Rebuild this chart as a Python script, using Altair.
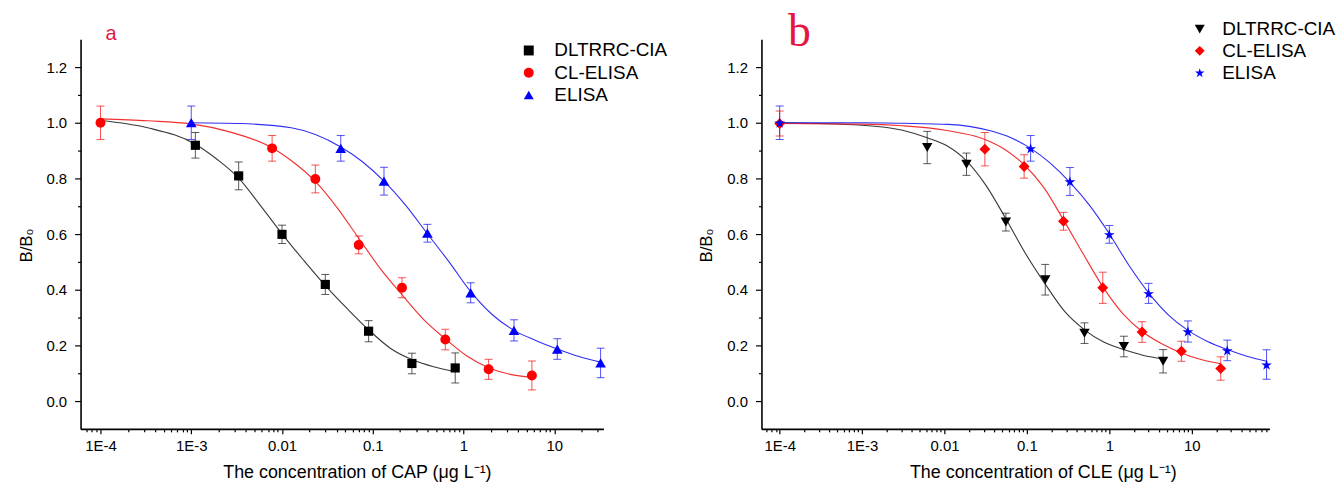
import altair as alt
import pandas as pd

SERIES = ["DLTRRC-CIA", "CL-ELISA", "ELISA"]
MARK_COLORS = ["#000000", "#ff0000", "#0000ff"]
LINE_COLORS = ["#222222", "#f01818", "#1818f0"]

# ---------------- Panel a : CAP ----------------
a_cia_x = [0.00111, 0.00333, 0.01, 0.03, 0.09, 0.27, 0.81]
a_cia_y = [0.919, 0.809, 0.599, 0.419, 0.251, 0.135, 0.119]
a_cia_e = [0.046, 0.050, 0.033, 0.036, 0.038, 0.037, 0.054]

a_cl_x = [0.0001, 0.00778, 0.0233, 0.07, 0.21, 0.63, 1.89, 5.67]
a_cl_y = [1.000, 0.908, 0.798, 0.561, 0.407, 0.221, 0.114, 0.092]
a_cl_e = [0.060, 0.046, 0.050, 0.032, 0.036, 0.037, 0.036, 0.052]

a_el_x = [0.001, 0.0444, 0.133, 0.4, 1.2, 3.6, 10.8, 32.4]
a_el_y = [1.000, 0.908, 0.790, 0.603, 0.389, 0.254, 0.187, 0.137]
a_el_e = [0.060, 0.046, 0.050, 0.032, 0.036, 0.038, 0.037, 0.053]

# fitted curves
a_cia_fx = [0.0001, 0.00033, 0.00111, 0.00192, 0.00333, 0.00577, 0.01, 0.0173,
            0.03, 0.052, 0.09, 0.156, 0.27, 0.468, 0.81]
a_cia_fy = [1.008, 0.982, 0.923, 0.869, 0.801, 0.703, 0.601, 0.506,
            0.415, 0.333, 0.256, 0.190, 0.149, 0.123, 0.106]

a_cl_fx = [0.0001, 0.00033, 0.001, 0.00259, 0.00778, 0.0135, 0.0233, 0.0404,
           0.07, 0.121, 0.21, 0.364, 0.63, 1.09, 1.89, 3.27, 5.67]
a_cl_fy = [1.014, 1.007, 0.996, 0.968, 0.910, 0.857, 0.789, 0.695,
           0.585, 0.476, 0.382, 0.293, 0.224, 0.162, 0.120, 0.096, 0.086]

a_el_fx = [0.001, 0.0035, 0.0126, 0.0444, 0.077, 0.133, 0.231, 0.4,
           0.693, 1.2, 2.08, 3.6, 6.24, 10.8, 18.7, 32.4]
a_el_fy = [1.000, 0.997, 0.982, 0.913, 0.860, 0.790, 0.703, 0.601,
           0.500, 0.393, 0.310, 0.254, 0.218, 0.187, 0.160, 0.140]

# ---------------- Panel b : CLE ----------------
b_cia_x = [0.00617, 0.0185, 0.0556, 0.167, 0.5, 1.5, 4.5]
b_cia_y = [0.911, 0.851, 0.643, 0.436, 0.244, 0.196, 0.143]
b_cia_e = [0.058, 0.040, 0.032, 0.055, 0.037, 0.037, 0.042]

b_cl_x = [0.0001, 0.0309, 0.0926, 0.278, 0.833, 2.5, 7.5, 22.5]
b_cl_y = [0.997, 0.905, 0.843, 0.646, 0.407, 0.248, 0.179, 0.117]
b_cl_e = [0.045, 0.060, 0.042, 0.032, 0.056, 0.037, 0.036, 0.042]

b_el_x = [0.0001, 0.111, 0.333, 1.0, 3.0, 9.0, 27.0, 81.0]
b_el_y = [1.000, 0.908, 0.789, 0.599, 0.387, 0.250, 0.182, 0.131]
b_el_e = [0.060, 0.046, 0.050, 0.032, 0.036, 0.038, 0.037, 0.053]

b_cia_fx = [0.0001, 0.001, 0.0031, 0.00617, 0.0107, 0.0185, 0.032, 0.0556,
            0.0962, 0.167, 0.289, 0.5, 0.866, 1.5, 2.6, 4.5]
b_cia_fy = [1.000, 0.991, 0.973, 0.946, 0.917, 0.863, 0.774, 0.655,
            0.530, 0.420, 0.321, 0.256, 0.211, 0.185, 0.164, 0.152]

b_cl_fx = [0.0001, 0.001, 0.0031, 0.0103, 0.0309, 0.0535, 0.0926, 0.16,
           0.278, 0.48, 0.833, 1.44, 2.5, 4.33, 7.5, 13.0, 22.5]
b_cl_fy = [0.997, 0.995, 0.989, 0.973, 0.940, 0.905, 0.849, 0.768,
           0.651, 0.530, 0.411, 0.316, 0.250, 0.206, 0.173, 0.149, 0.134]

b_el_fx = [0.0001, 0.001, 0.0031, 0.0111, 0.037, 0.0641, 0.111, 0.192, 0.333,
           0.577, 1.0, 1.73, 3.0, 5.2, 9.0, 15.6, 27.0, 46.8, 81.0]
b_el_fy = [1.000, 1.000, 0.998, 0.994, 0.970, 0.946, 0.908, 0.855, 0.786,
           0.703, 0.601, 0.488, 0.389, 0.310, 0.254, 0.214, 0.185, 0.161, 0.143]

STAR = ("M0,-0.905 L0.225,-0.214 L0.951,-0.214 L0.363,0.213 L0.588,0.904 "
        "L0,0.477 L-0.588,0.904 L-0.363,0.213 L-0.951,-0.214 L-0.225,-0.214 Z")

FONT = "Liberation Sans"
REV = list(reversed(SERIES))


def points_df(groups):
    rows = []
    for name, xs, ys, es in groups:
        for x, y, e in zip(xs, ys, es):
            rows.append({"series": name, "x": x, "y": y, "lo": y - e, "hi": y + e})
    return pd.DataFrame(rows)


def curves_df(groups):
    rows = []
    for name, xs, ys in groups:
        for x, y in zip(xs, ys):
            rows.append({"series": name, "x": x, "y": y})
    return pd.DataFrame(rows)


def log_ticks(lo, hi):
    vals = []
    for e in range(-6, 3):
        for m in range(1, 10):
            v = float(f"{m}e{e}")
            if lo <= v <= hi:
                vals.append(v)
    return vals


X_MAJOR = "abs(log(datum.value)/LN10 - round(log(datum.value)/LN10)) < 0.001"
Y_MAJOR = "abs(datum.value*5 - round(datum.value*5)) < 0.001"


def panel(pts, crv, shapes, sizes, xdom, width, xtitle, xtitle_x,
          lx, ly, loff, rpad, title):
    xscale = alt.Scale(type="log", domain=xdom, nice=False)
    yscale = alt.Scale(domain=[-0.1, 1.3], nice=False, zero=False)
    cscale = alt.Scale(domain=SERIES, range=MARK_COLORS)
    # reversed domain so that these (legend-less) scales are not merged with the legend
    lscale = alt.Scale(domain=REV, range=list(reversed(LINE_COLORS)))
    sscale = alt.Scale(domain=REV, range=list(reversed(sizes)))
    xaxis = alt.Axis(
        values=log_ticks(xdom[0], xdom[1]),
        labelExpr=f"{X_MAJOR} ? (datum.value < 0.0002 ? '1E-4' : datum.value < 0.002 ? '1E-3' : format(datum.value, '~g')) : ''",
        tickSize={"condition": {"test": X_MAJOR, "value": 5}, "value": 3},
        labelPadding=5, labelOverlap=False, labelFlush=False, labelBound=False,
        title=xtitle, titleX=xtitle_x, titleAlign="center", titlePadding=10,
        grid=False,
    )
    yaxis = alt.Axis(
        values=[round(i * 0.1, 1) for i in range(0, 13)],
        labelExpr=f"{Y_MAJOR} ? format(datum.value, '.1f') : ''",
        tickSize={"condition": {"test": Y_MAJOR, "value": 6}, "value": 3},
        labelPadding=8, labelOverlap=False, labelFlush=False, labelBound=False,
        title="B/B₀", titleFontSize=17, titlePadding=11, titleY=207,
        grid=False,
    )
    X = alt.X("x:Q", scale=xscale, axis=xaxis)
    Y = alt.Y("y:Q", scale=yscale, axis=yaxis)
    leg = alt.Legend(orient="none", legendX=lx, legendY=ly, title=None,
                     labelFont=FONT, labelFontSize=19, labelColor="black",
                     symbolSize=100, labelOffset=loff, rowPadding=rpad,
                     padding=0, symbolStrokeWidth=0)

    lines = alt.Chart(crv).mark_line(interpolate="monotone", strokeWidth=1.1,
                                     opacity=0.9).encode(
        x=X, y=Y,
        stroke=alt.Stroke("series:N", scale=lscale, legend=None),
        detail="series:N",
    )
    bars = alt.Chart(pts).mark_rule(strokeWidth=1, opacity=0.75).encode(
        x=X, y=alt.Y("lo:Q", scale=yscale, axis=yaxis), y2="hi:Q",
        stroke=alt.Stroke("series:N", scale=lscale, legend=None),
    )
    caps = alt.Chart(pts).transform_fold(["lo", "hi"], as_=["end", "yv"]).mark_tick(
        orient="horizontal", size=8, thickness=1, opacity=0.75).encode(
        x=X, y=alt.Y("yv:Q", scale=yscale, axis=yaxis),
        fill=alt.Fill("series:N", scale=lscale, legend=None),
    )
    marks = alt.Chart(pts).mark_point(filled=True, opacity=1).encode(
        x=X, y=Y,
        color=alt.Color("series:N", scale=cscale, legend=leg),
        shape=alt.Shape("series:N", scale=alt.Scale(domain=SERIES, range=shapes), legend=leg),
        size=alt.Size("series:N", scale=sscale, legend=None),
    )
    return alt.layer(lines, bars, caps, marks).properties(
        width=width, height=392, title=title)


pa = panel(
    points_df([("DLTRRC-CIA", a_cia_x, a_cia_y, a_cia_e),
               ("CL-ELISA", a_cl_x, a_cl_y, a_cl_e),
               ("ELISA", a_el_x, a_el_y, a_el_e)]),
    curves_df([("DLTRRC-CIA", a_cia_fx, a_cia_fy),
               ("CL-ELISA", a_cl_fx, a_cl_fy),
               ("ELISA", a_el_fx, a_el_fy)]),
    ["square", "circle", "triangle-up"], [85, 85, 115],
    [6.03e-5, 34.8], 526, "The concentration of CAP (μg L⁻¹)", 278,
    441.4, 1.8, 16.2, 2.4,
    alt.TitleParams("a", anchor="start", frame="group", dx=25, offset=-21,
                    baseline="alphabetic", font=FONT, fontSize=20,
                    fontWeight="normal", color="#e3173f"),
)

pb = panel(
    points_df([("DLTRRC-CIA", b_cia_x, b_cia_y, b_cia_e),
               ("CL-ELISA", b_cl_x, b_cl_y, b_cl_e),
               ("ELISA", b_el_x, b_el_y, b_el_e)]),
    curves_df([("DLTRRC-CIA", b_cia_fx, b_cia_fy),
               ("CL-ELISA", b_cl_fx, b_cl_fy),
               ("ELISA", b_el_fx, b_el_fy)]),
    ["triangle-down", "diamond", STAR], [115, 110, 130],
    [6.01e-5, 87.7], 511, "The concentration of CLE (μg L⁻¹)", 283,
    431.4, -19.7, 13.2, 1.9,
    alt.TitleParams("b", anchor="start", frame="group", dx=26.7, offset=-72.9,
                    baseline="alphabetic", font="Liberation Serif", fontSize=46,
                    fontWeight="normal", color="#e3173f"),
)

chart = alt.hconcat(pa, pb, spacing=159, bounds="flush").resolve_scale(
    color="independent", shape="independent", size="independent",
    stroke="independent", fill="independent",
    x="independent", y="independent",
).resolve_legend(
    color="independent", shape="independent", size="independent",
).properties(
    padding={"left": 9, "top": 0, "right": 0, "bottom": 0}
).configure_axis(
    domainColor="black", domainWidth=1.6, tickColor="black", tickWidth=1.2,
    labelFont=FONT, labelFontSize=15, labelColor="black",
    titleFont=FONT, titleFontSize=18, titleFontWeight="normal", titleColor="black",
).configure_view(stroke=None)

chart.save("out.html", embed_options={"renderer": "svg", "actions": False})
